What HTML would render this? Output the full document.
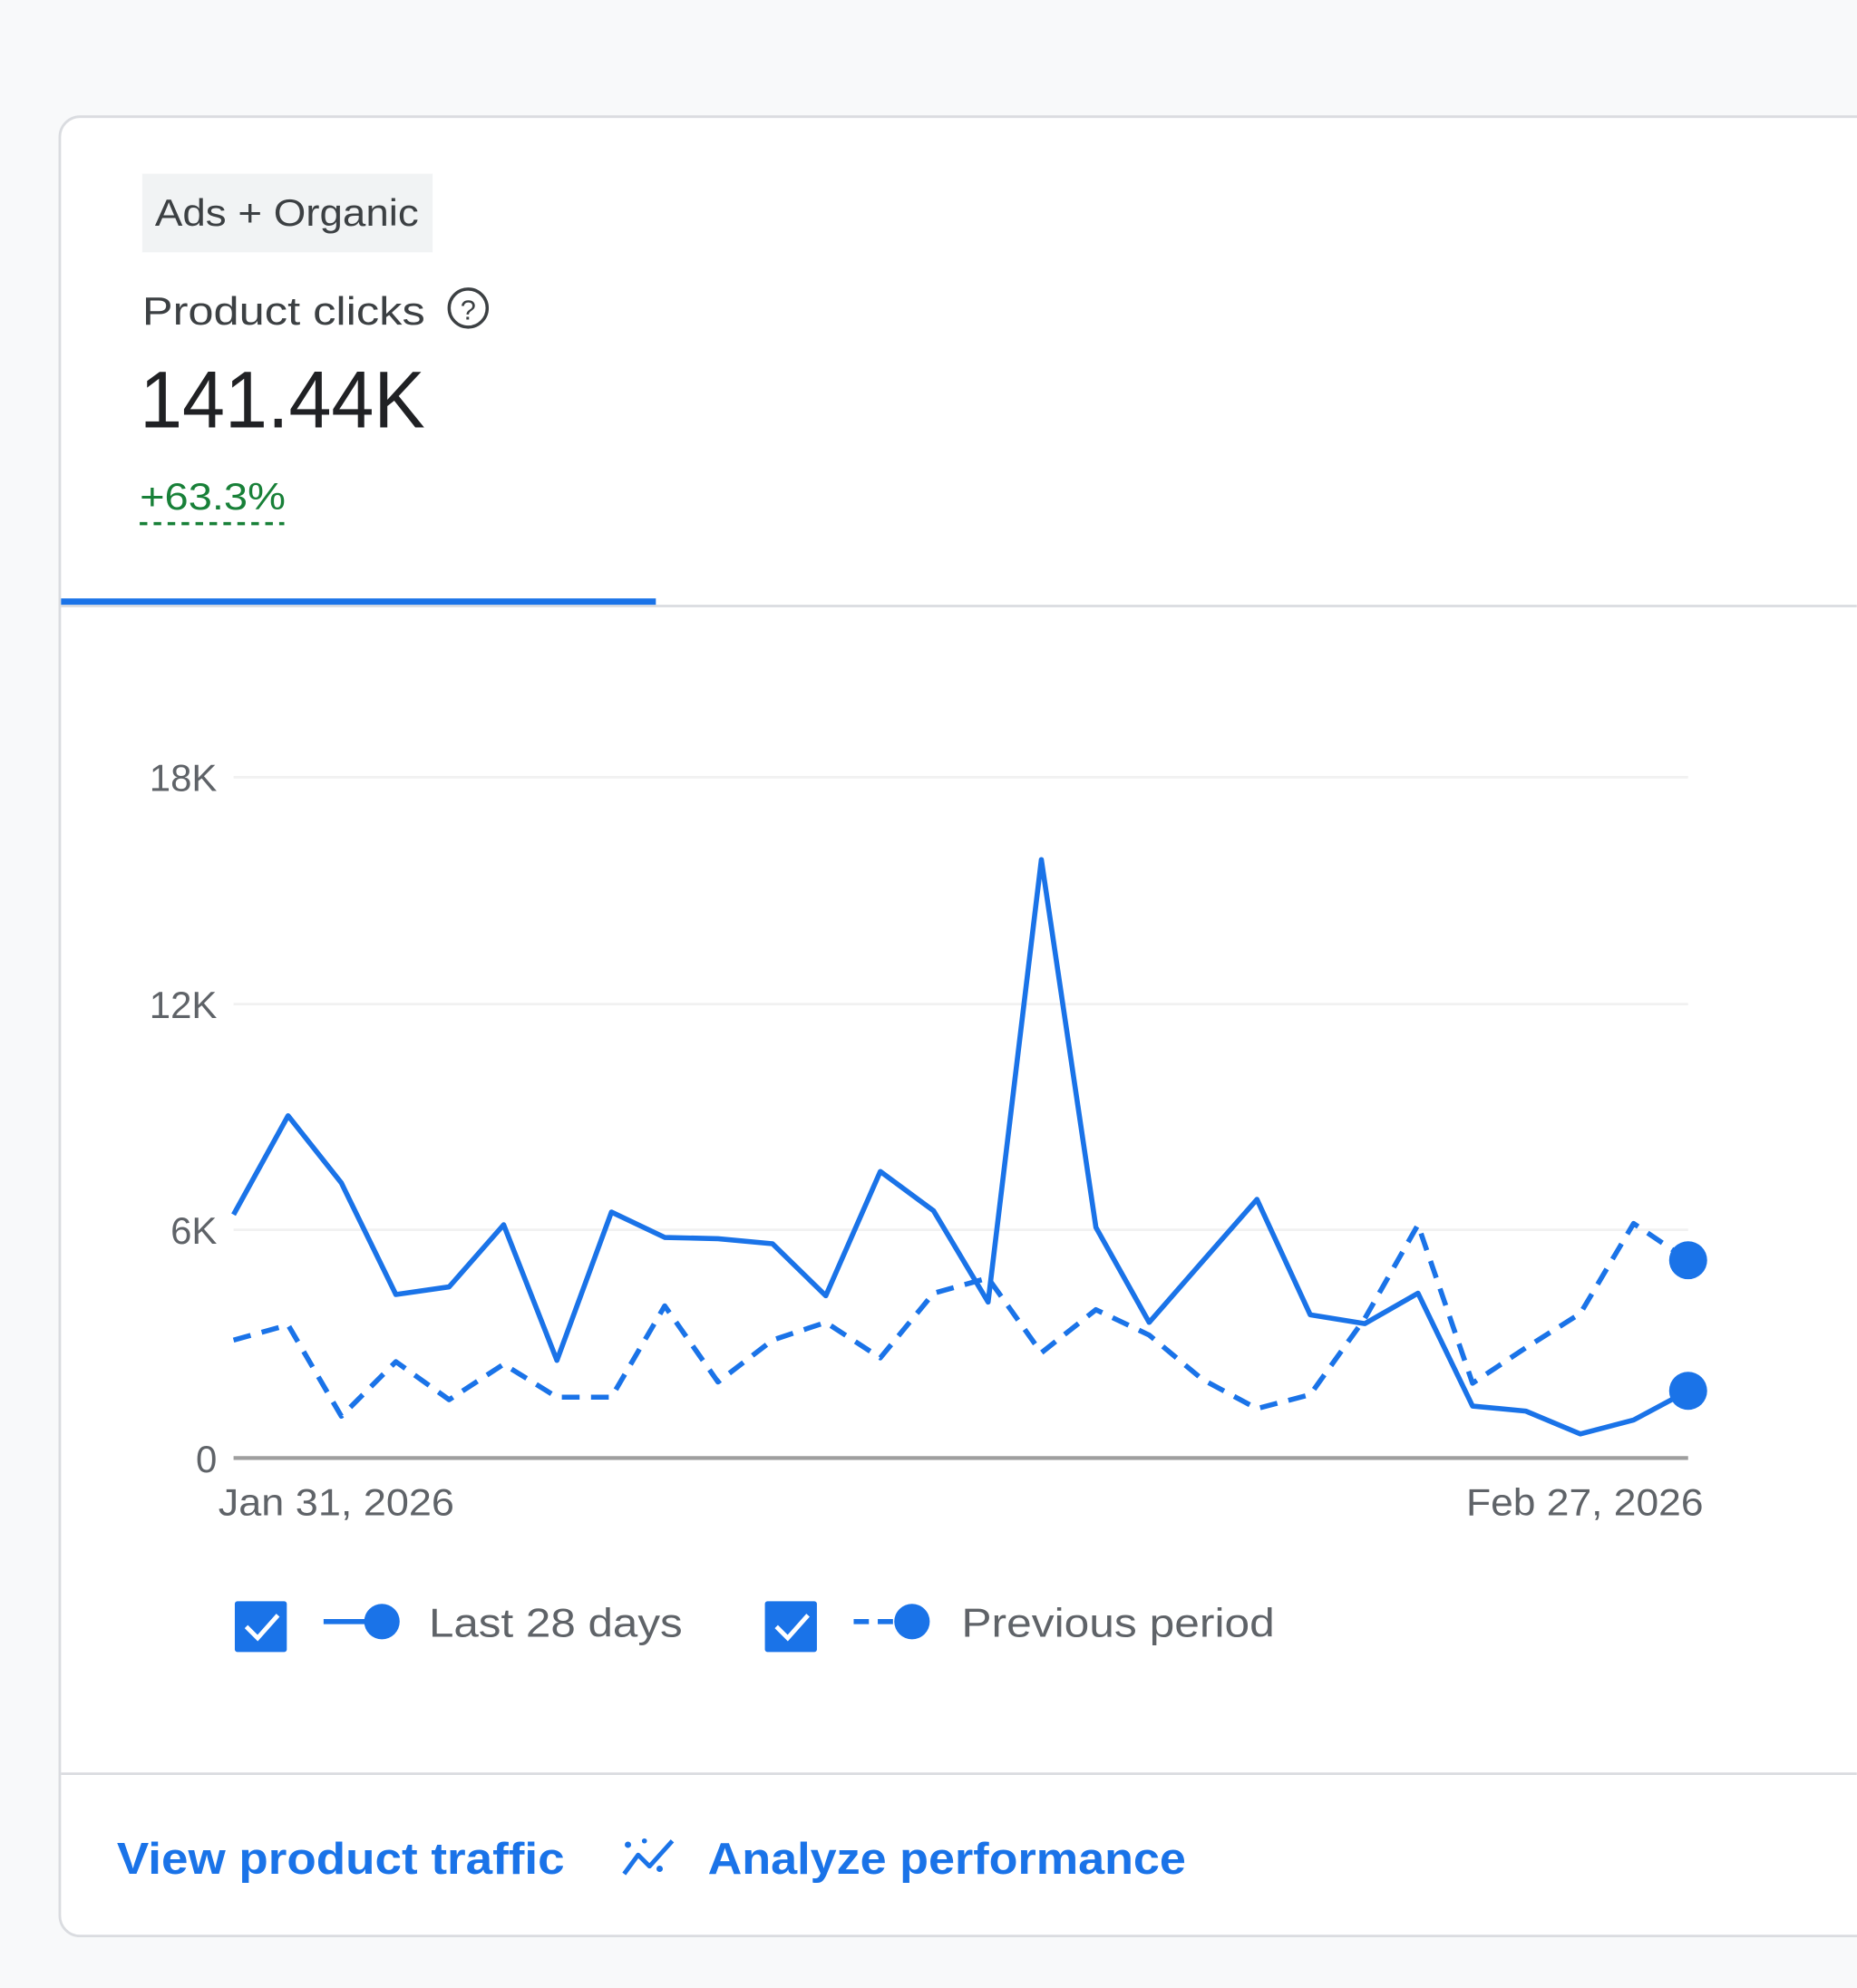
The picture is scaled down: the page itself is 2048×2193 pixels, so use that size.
<!DOCTYPE html>
<html><head><meta charset="utf-8"><style>
html,body{margin:0;padding:0;background:#f8f9fa;}
svg{display:block;}
text{font-family:"Liberation Sans",sans-serif;}
</style></head><body>
<svg width="2048" height="2193" viewBox="0 0 1464 1568" xmlns="http://www.w3.org/2000/svg">
<rect x="0" y="0" width="1464" height="1568" fill="#f8f9fa"/>
<rect x="47" y="92" width="1440" height="1435" rx="16" fill="#ffffff" stroke="#dadce0" stroke-width="2"/>
<rect x="112" y="137" width="229" height="62" fill="#f1f3f4"/>
<text x="122" y="178" font-size="30" fill="#3c4043" textLength="208" lengthAdjust="spacingAndGlyphs">Ads + Organic</text>
<text x="112" y="256" font-size="31" fill="#3c4043" textLength="223" lengthAdjust="spacingAndGlyphs">Product clicks</text>
<circle cx="369" cy="243" r="15" fill="none" stroke="#3c4043" stroke-width="2.5"/>
<text x="369" y="252" font-size="22" fill="#3c4043" text-anchor="middle">?</text>
<text x="110" y="337" font-size="64" fill="#202124" textLength="225" lengthAdjust="spacingAndGlyphs">141.44K</text>
<text x="110" y="402" font-size="30" fill="#188038" textLength="115" lengthAdjust="spacingAndGlyphs">+63.3%</text>
<line x1="110" y1="413" x2="224" y2="413" stroke="#188038" stroke-width="2.5" stroke-dasharray="6,5"/>
<line x1="48" y1="478" x2="1464" y2="478" stroke="#dadce0" stroke-width="2"/>
<rect x="48" y="472" width="469" height="5" fill="#1a73e8"/>
<g stroke="#f1f1f1" stroke-width="2">
<line x1="184" y1="613" x2="1331" y2="613"/><line x1="184" y1="792" x2="1331" y2="792"/><line x1="184" y1="970" x2="1331" y2="970"/>
</g>
<line x1="184" y1="1150" x2="1331" y2="1150" stroke="#9e9e9e" stroke-width="3"/>
<g font-size="30" fill="#5f6368" text-anchor="end">
<text x="171" y="624">18K</text><text x="171" y="803">12K</text><text x="171" y="981">6K</text><text x="171" y="1161">0</text>
</g>
<text x="172" y="1195" font-size="30" fill="#5f6368" textLength="186" lengthAdjust="spacingAndGlyphs">Jan 31, 2026</text>
<text x="1343" y="1195" font-size="30" fill="#5f6368" text-anchor="end" textLength="187" lengthAdjust="spacingAndGlyphs">Feb 27, 2026</text>
<polyline fill="none" stroke="#1a73e8" stroke-width="4" stroke-linejoin="round" points="184,958 227,880 269,933 312,1021 354,1015 397,966 439,1073 482,956 524,976 566,977 609,981 651,1022 694,924 736,955 779,1027 821,678 864,968 906,1043 948,995 991,946 1033,1037 1076,1044 1118,1020 1161,1109 1203,1113 1246,1131 1288,1120 1331,1097"/>
<polyline fill="none" stroke="#1a73e8" stroke-width="4" stroke-dasharray="14,9" stroke-linejoin="round" points="184,1057 227,1045 269,1117 312,1074 354,1104 397,1076 439,1102 482,1102 524,1030 566,1090 609,1057 651,1043 694,1071 736,1020 779,1008 821,1067 864,1033 906,1053 948,1088 991,1111 1033,1100 1076,1040 1118,966 1161,1091 1203,1063 1246,1036 1288,965 1331,994"/>
<circle cx="1331" cy="1097" r="15" fill="#1a73e8"/>
<circle cx="1331" cy="994" r="15" fill="#1a73e8"/>
<rect x="185" y="1263" width="41" height="40" rx="2" fill="#1a73e8"/>
<polyline points="194,1283 203,1292 219,1274" fill="none" stroke="#fff" stroke-width="3.5"/>
<line x1="255" y1="1279" x2="292" y2="1279" stroke="#1a73e8" stroke-width="4"/>
<circle cx="301" cy="1279" r="14" fill="#1a73e8"/>
<text x="338" y="1291" font-size="32" fill="#5f6368" textLength="200" lengthAdjust="spacingAndGlyphs">Last 28 days</text>
<rect x="603" y="1263" width="41" height="40" rx="2" fill="#1a73e8"/>
<polyline points="612,1283 621,1292 637,1274" fill="none" stroke="#fff" stroke-width="3.5"/>
<line x1="673" y1="1279" x2="708" y2="1279" stroke="#1a73e8" stroke-width="4" stroke-dasharray="12,7"/>
<circle cx="719" cy="1279" r="14" fill="#1a73e8"/>
<text x="758" y="1291" font-size="32" fill="#5f6368" textLength="247" lengthAdjust="spacingAndGlyphs">Previous period</text>
<line x1="48" y1="1399" x2="1464" y2="1399" stroke="#dadce0" stroke-width="2"/>
<text x="92" y="1478" font-size="35" font-weight="bold" fill="#1a73e8" textLength="353" lengthAdjust="spacingAndGlyphs">View product traffic</text>
<g stroke="#1a73e8" stroke-width="3.5" fill="none" stroke-linejoin="round">
<polyline points="492,1478 503,1463 512,1472 530,1452"/>
</g>
<circle cx="495" cy="1455" r="2.5" fill="#1a73e8"/><circle cx="520" cy="1474" r="2.5" fill="#1a73e8"/><circle cx="508" cy="1452" r="2" fill="#1a73e8"/>
<text x="558" y="1478" font-size="35" font-weight="bold" fill="#1a73e8" textLength="377" lengthAdjust="spacingAndGlyphs">Analyze performance</text>
</svg>
</body></html>
